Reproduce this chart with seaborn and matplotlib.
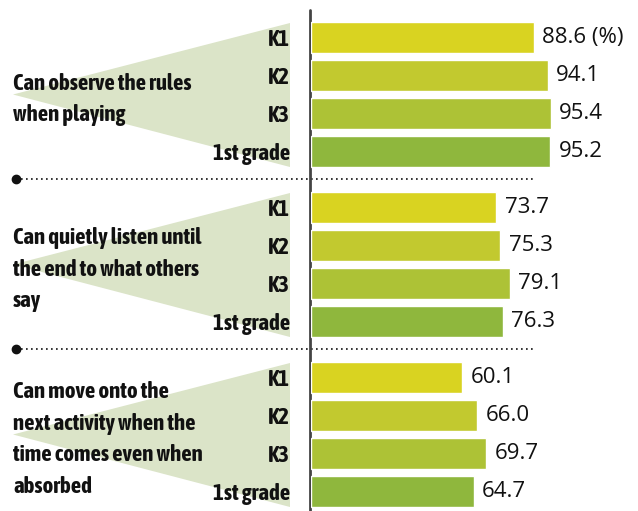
import pandas as pd
import matplotlib.pyplot as plt
import seaborn as sns
from matplotlib.patches import Polygon

# data
grades = ['K1', 'K2', 'K3', '1st grade']
items = [
    'Can observe the rules\nwhen playing',
    'Can quietly listen until\nthe end to what others\nsay',
    'Can move onto the\nnext activity when the\ntime comes even when\nabsorbed',
]
observe_rules = [88.6, 94.1, 95.4, 95.2]
listen_quietly = [73.7, 75.3, 79.1, 76.3]
move_on = [60.1, 66.0, 69.7, 64.7]

colors = ['#d9d321', '#c2c92f', '#adc236', '#8fb73d']
wedge_color = '#dbe4c8'
label_font = ['Asap Condensed', 'DejaVu Sans']
value_font = ['Open Sans', 'DejaVu Sans']

sns.set_theme(style='white')

W, H = 638, 511
fig = plt.figure(figsize=(W / 100, H / 100), dpi=100)

# overlay in pixel coordinates for decorations
bg = fig.add_axes([0, 0, 1, 1])
bg.set_xlim(0, W)
bg.set_ylim(H, 0)
bg.axis('off')

values = [observe_rules, listen_quietly, move_on]
slot = 38
group_tops = [18.5, 188.5, 358.5]
axis_x = 311

for g, (item, vals) in enumerate(zip(items, values)):
    top = group_tops[g]
    bottom = top + 4 * slot
    ax = fig.add_axes([axis_x / W, 1 - bottom / H, 1 - axis_x / W, 4 * slot / H])
    ax.patch.set_visible(False)
    df = pd.DataFrame({'grade': grades, 'pct': vals})
    sns.barplot(data=df, x='pct', y='grade', hue='grade', palette=colors,
                order=grades, width=31 / 38, legend=False, ax=ax, saturation=1)
    ax.set_xlim(0, 130)
    ax.set_xlabel('')
    ax.set_ylabel('')
    ax.set_xticks([])
    sns.despine(ax=ax, left=True, bottom=True)
    ax.tick_params(axis='y', length=0, pad=15)
    for lab in ax.get_yticklabels():
        lab.set_fontfamily(label_font)
        lab.set_fontweight('bold')
        lab.set_fontsize(16.5)
        lab.set_color('#111111')
    for i, cont in enumerate(ax.containers):
        txt = f'{vals[i]:.1f}'
        if g == 0 and i == 0:
            txt += ' (%)'
        ax.bar_label(cont, labels=[txt], padding=6, fontsize=16,
                     family=value_font, color='#111111')

    # wedge behind the labels
    mid = (top + bottom) / 2
    bg.add_patch(Polygon([[13, mid], [290, top + 4.5], [290, bottom - 3.5]],
                         closed=True, color=wedge_color, lw=0, zorder=1))
    bg.text(13, mid + 5, item, ha='left', va='center', fontsize=16.5,
            fontweight='bold', family=label_font, color='#111111',
            linespacing=1.58, zorder=3)

    # dotted separator
    if g > 0:
        y = top - 9.5
        bg.plot([16, 535], [y, y], color='#111111', lw=1.2,
                linestyle=(0, (1, 2)), zorder=2)
        bg.plot([16], [y], 'o', color='#111111', ms=6, zorder=2)

# vertical axis line
bg.plot([axis_x - 1, axis_x - 1], [10, H], color='#444444', lw=2, zorder=4)

fig.savefig('out.png', dpi=100)
